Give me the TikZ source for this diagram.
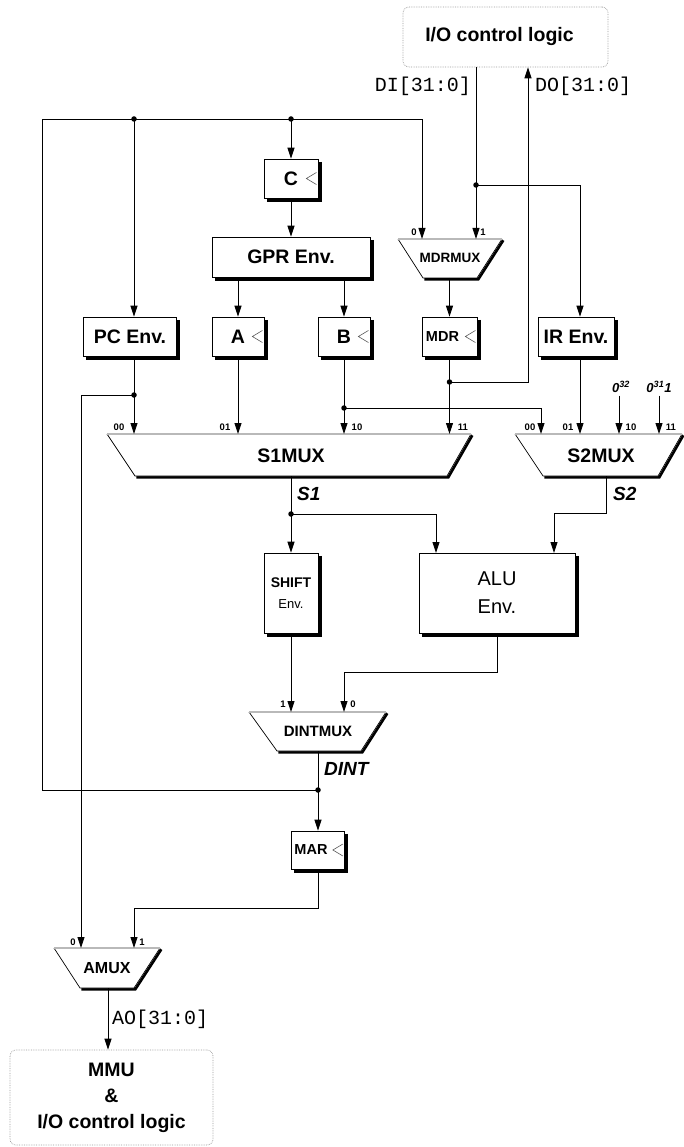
\documentclass[tikz,border=0pt]{standalone}
\usepackage{fontspec}
\setmainfont{Liberation Sans}
\newfontfamily\mycodefont{Liberation Mono}
\usetikzlibrary{arrows.meta}
\newcommand{\fmain}{\fontsize{19.5}{23}\selectfont\bfseries}
\newcommand{\fmono}{\mycodefont\fontsize{20}{24}\selectfont}
\newcommand{\fport}{\fontsize{9.5}{11}\selectfont\bfseries}
\newcommand{\fsig}{\fontsize{19}{22}\selectfont\bfseries\itshape}
\newcommand{\fsmux}{\fontsize{14.5}{16}\selectfont\bfseries}
\newcommand{\fconst}{\fontsize{13}{15}\selectfont\bfseries\itshape}
\newcommand{\clk}[1]{\draw[clkline] ([shift={(-2pt,6pt)}]#1.east) -- ++(-10pt,-6pt) -- ++(10pt,-6pt);}
% shadow along right and bottom edge of a named box
\newcommand{\boxshadow}[1]{\draw[line width=3pt, line join=miter, line cap=butt, black]
  ([shift={(1.85pt,-3.2pt)}]#1.north east) -- ([shift={(1.85pt,-1.85pt)}]#1.south east) -- ([shift={(3.2pt,-1.85pt)}]#1.south west);}
\newcommand{\drawmux}[6]{%
  \draw[line width=2.6pt, line join=miter] ([shift={(1.3pt,-1.3pt)}]#4,#6) -- ([shift={(1.3pt,-1.3pt)}]#5,#6) -- ([shift={(1.3pt,-1.3pt)}]#2,#3);
  \filldraw[fill=white, draw=black, line width=0.7pt] (#1,#3) -- (#4,#6) -- (#5,#6) -- (#2,#3);
  \draw[gray!55, line width=1.5pt] (#1,#3) -- (#2,#3);
}
\begin{document}
\begin{tikzpicture}[x=1pt,y=-1pt,
  wire/.style={line width=0.9pt},
  arr/.style={wire, -{Triangle[length=11pt,width=7pt]}},
  box/.style={draw, line width=0.7pt, fill=white, inner sep=0pt, font=\fmain},
  dot/.style={circle, fill=black, inner sep=0pt, minimum size=5.5pt},
  iobox/.style={draw=gray!80, densely dotted, line width=0.7pt, rounded corners=6pt, inner sep=0pt, align=center},
  muxlabel/.style={inner sep=0pt},
  port/.style={font=\fport, inner sep=0pt},
  clkline/.style={gray!70!black, line width=0.6pt},
  sig/.style={font=\fsig, inner sep=0pt, anchor=west},
  bus/.style={font=\fmono, inner sep=0pt}
]
\useasboundingbox (0,0) rectangle (684,1147);

% ---------- I/O boxes ----------
\node[iobox, minimum width=205pt, minimum height=60pt, font=\fmain] (io) at (505.5,37) {\raisebox{3pt}{I/O control logic}\kern12pt};
\node[iobox, minimum width=203pt, minimum height=95pt, font=\fontsize{19.5}{26}\selectfont\bfseries] (mmu) at (111.5,1097.5) {MMU\\\&\\I/O control logic};

% ---------- registers ----------
\node[box, minimum width=54pt, minimum height=39pt] (C) at (291,178.5) {C};
\node[box, minimum width=158pt, minimum height=40pt] (GPR) at (291,257) {GPR Env.};
\node[box, minimum width=93pt, minimum height=39pt] (PC) at (130,336.5) {PC Env.};
\node[box, minimum width=52pt, minimum height=39pt] (A) at (238,336.5) {A};
\node[box, minimum width=52pt, minimum height=39pt] (B) at (344,336.5) {B};
\node[box, minimum width=55pt, minimum height=39pt] (MDR) at (449.5,336.5) {\fsmux MDR\kern14pt};
\node[box, minimum width=76pt, minimum height=39pt] (IR) at (576,336.5) {IR Env.};
\node[box, minimum width=54pt, minimum height=80pt, align=center, font=\fontsize{14}{21}\selectfont] (SH) at (291,593) {\textbf{SHIFT}\\{\fontsize{13}{15}\selectfont Env.}};
\node[box, minimum width=156pt, minimum height=80pt, align=center, font=\fontsize{20}{28}\selectfont] (ALU) at (497,593) {ALU\\Env.};
\node[box, minimum width=53pt, minimum height=38pt] (MAR) at (318,850) {\fsmux MAR\kern14pt};
\clk{C}\clk{A}\clk{B}\clk{MDR}\clk{MAR}
\boxshadow{C}\boxshadow{GPR}\boxshadow{PC}\boxshadow{A}\boxshadow{B}
\boxshadow{MDR}\boxshadow{IR}\boxshadow{SH}\boxshadow{ALU}\boxshadow{MAR}

% ---------- multiplexers ----------
\drawmux{398}{502}{239}{423}{477}{278}
\node[muxlabel, font=\fontsize{13.5}{15}\selectfont\bfseries] (mdrmux) at (450,258) {MDRMUX};
\drawmux{107}{471}{434}{135}{447}{476}
\node[muxlabel, font=\fmain] (s1mux) at (291,456) {S1MUX};
\drawmux{515}{682}{434}{543}{658}{476}
\node[muxlabel, font=\fmain] (s2mux) at (601,456) {S2MUX};
\drawmux{249}{386}{712}{277}{361}{751}
\node[muxlabel, font=\fontsize{15}{17}\selectfont\bfseries] (dintmux) at (318,731) {DINTMUX};
\drawmux{54}{160}{948}{80}{134}{988}
\node[muxlabel, font=\fontsize{16}{18}\selectfont\bfseries] (amux) at (107,968) {AMUX};

% ports
\coordinate (mdrmux0) at (422,239); \coordinate (mdrmux1) at (476,239); \coordinate (mdrmuxo) at (449.5,278);
\coordinate (s1i0) at (134,434); \coordinate (s1i1) at (238,434); \coordinate (s1i2) at (344,434); \coordinate (s1i3) at (449.5,434);
\coordinate (s1o) at (291,476);
\coordinate (s2i0) at (541,434); \coordinate (s2i1) at (580,434); \coordinate (s2i2) at (619,434); \coordinate (s2i3) at (659,434);
\coordinate (s2o) at (606,476);
\coordinate (dint1) at (291,712); \coordinate (dint0) at (344,712); \coordinate (dinto) at (318,751);
\coordinate (amux0) at (81,948); \coordinate (amux1) at (134,948); \coordinate (amuxo) at (108,988);

% port labels
\node[port] (p1) at (414,232) {0};  \node[port] (p2) at (483,232) {1};
\node[port] (p3) at (119,427) {00}; \node[port] (p4) at (225,427) {01};
\node[port] (p5) at (357,427) {10}; \node[port] (p6) at (463,427) {11};
\node[port] (p7) at (530,427) {00}; \node[port] (p8) at (568,427) {01};
\node[port] (p9) at (631,427) {10}; \node[port] (p10) at (671,427) {11};
\node[port] (p11) at (283,704) {1}; \node[port] (p12) at (353,704) {0};
\node[port] (p13) at (73,942) {0};  \node[port] (p14) at (142,942) {1};

% constants
\node[font=\fconst, inner sep=0pt] (k32) at (621,387) {0\textsuperscript{32}};
\node[font=\fconst, inner sep=0pt] (k31) at (659,387) {0\textsuperscript{31}1};

% ---------- junctions ----------
\coordinate (jdi) at (476,185);
\coordinate (jir) at (580,185);
\coordinate (jmdr) at (449.5,382);
\coordinate (jdo) at (528,382);
\coordinate (jdint) at (318,790);
\coordinate (fbL) at (42,790);
\coordinate (fbTL) at (42,119);
\coordinate (fbTR) at (422,119);
\coordinate (jpcT) at (134,119);
\coordinate (jcT) at (291,119);
\coordinate (jpc) at (134,395);
\coordinate (pcL) at (81,395);
\coordinate (jb) at (344,408);
\coordinate (js1) at (291,514);
\coordinate (aluin1) at (436,553);
\coordinate (aluin2) at (554,553);
\coordinate (s2b) at (606,513);
\coordinate (alub) at (497,672);
\coordinate (marb) at (318,908);

% ---------- connectors ----------
\draw[wire] (io.south -| jdi) -- (jdi);
\draw[arr] (jdi) -- (mdrmux1);
\draw[arr] (jdi) -- (jir) -- (IR.north -| jir);
\draw[wire] (MDR.south) -- (jmdr);
\draw[arr] (jmdr) -- (s1i3);
\draw[arr] (jmdr) -- (jdo) -- (io.south -| jdo);
\draw[arr] (jdint) -- (fbL) -- (fbTL) -- (fbTR) -- (mdrmux0);
\draw[arr] (jpcT) -- (PC.north -| jpcT);
\draw[arr] (jcT) -- (C.north);
\draw[arr] (C) -- (GPR);
\draw[arr] (GPR.south -| A) -- (A.north);
\draw[arr] (GPR.south -| B) -- (B.north);
\draw[arr] (mdrmuxo) -- (MDR.north);
\draw[wire] (PC.south -| jpc) -- (jpc);
\draw[arr] (jpc) -- (s1i0);
\draw[arr] (jpc) -- (pcL) -- (amux0);
\draw[arr] (A.south) -- (s1i1);
\draw[wire] (B.south) -- (jb);
\draw[arr] (jb) -- (s1i2);
\draw[arr] (jb) -- (jb -| s2i0) -- (s2i0);
\draw[arr] (IR.south -| s2i1) -- (s2i1);
\draw[arr] (k32.south -| s2i2) ++(0,3) -- (s2i2);
\draw[arr] (k31.south -| s2i3) ++(0,3) -- (s2i3);
\draw[wire] (s1o) -- (js1);
\draw[arr] (js1) -- (SH.north);
\draw[arr] (js1) -- (js1 -| aluin1) -- (aluin1);
\draw[arr] (s2o) -- (s2b) -- (s2b -| aluin2) -- (aluin2);
\draw[arr] (SH.south) -- (dint1);
\draw[arr] (ALU.south) -- (alub) -- (alub -| dint0) -- (dint0);
\draw[wire] (dinto) -- (jdint);
\draw[arr] (jdint) -- (MAR.north);
\draw[arr] (MAR.south) -- (marb) -- (marb -| amux1) -- (amux1);
\draw[arr] (amuxo) -- (mmu.north -| amuxo);

\foreach \j in {jdi,jmdr,jpcT,jcT,jpc,jb,js1,jdint} \node[dot] at (\j) {};

% ---------- signal labels ----------
\node[bus, anchor=east] (lDI) at (471,86) {DI[31:0]};
\node[bus, anchor=west] (lDO) at (535,86) {DO[31:0]};
\node[bus, anchor=west] (lAO) at (112,1019) {AO[31:0]};
\node[sig] (lS1) at (297,494) {S1};
\node[sig] (lS2) at (613,494) {S2};
\node[sig] (lDINT) at (324,769) {DINT};
\end{tikzpicture}
\end{document}
